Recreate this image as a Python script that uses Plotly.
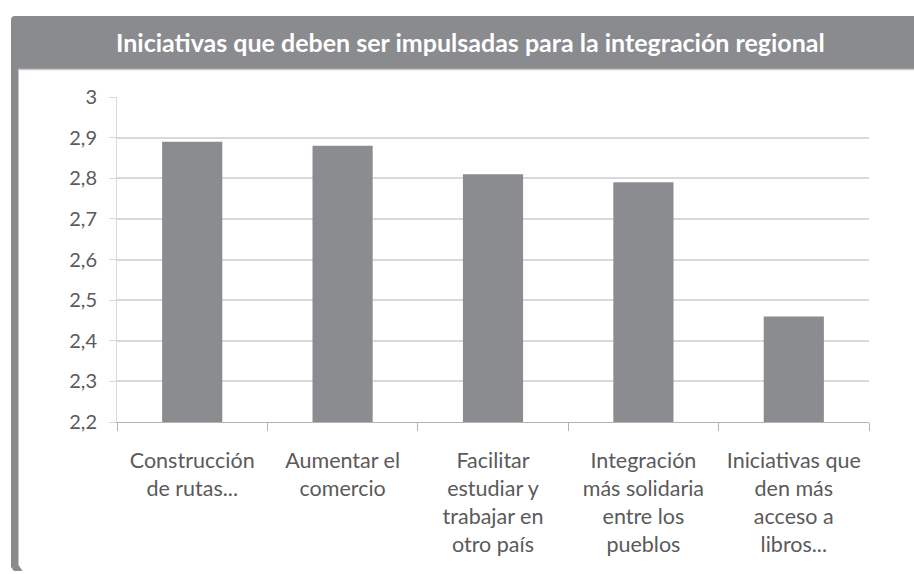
import plotly.graph_objects as go

# Data
categories = [
    "Construcción<br>de rutas...",
    "Aumentar el<br>comercio",
    "Facilitar<br>estudiar y<br>trabajar en<br>otro país",
    "Integración<br>más solidaria<br>entre los<br>pueblos",
    "Iniciativas que<br>den más<br>acceso a<br>libros...",
]
values = [2.89, 2.88, 2.81, 2.79, 2.46]
y_tickvals = [2.2, 2.3, 2.4, 2.5, 2.6, 2.7, 2.8, 2.9, 3.0]
y_ticktext = ["2,2", "2,3", "2,4", "2,5", "2,6", "2,7", "2,8", "2,9", "3"]
title_text = "Iniciativas que deben ser impulsadas para la integración regional"

W, H = 914, 574
ML, MR, MT, MB = 117, 45, 97, 152
PW, PH = W - ML - MR, H - MT - MB


def fx(px):
    return (px - ML) / PW


def fy(py):
    return 1 - (py - MT) / PH


BAR = "#8b8c90"
FRAME = "#8a8b8f"
GRID = "#d9d9d9"
TEXT = "#5a5a5a"

fig = go.Figure(
    go.Bar(
        x=categories,
        y=values,
        marker=dict(color=BAR, line=dict(width=0)),
        width=0.4,
    )
)

# Header band with a slightly rounded top-left corner
hx0, hx1, hy0, hy1, r = 11, 914, 16, 69, 4
header_path = (
    f"M {fx(hx0)},{fy(hy1)} L {fx(hx0)},{fy(hy0 + r)} "
    f"Q {fx(hx0)},{fy(hy0)} {fx(hx0 + r)},{fy(hy0)} "
    f"L {fx(hx1)},{fy(hy0)} L {fx(hx1)},{fy(hy1)} Z"
)
# Left frame edge with a small bevel at the bottom
lx0, lx1, ly0, ly1 = 11, 18.5, 69, 571
left_path = (
    f"M {fx(lx0)},{fy(ly0)} L {fx(lx1)},{fy(ly0)} L {fx(lx1)},{fy(ly1 - 6)} "
    f"L {fx(lx1 + 4)},{fy(ly1)} L {fx(lx0 + 3)},{fy(ly1)} L {fx(lx0)},{fy(ly1 - 4)} Z"
)

shapes = [
    dict(type="path", xref="paper", yref="paper", path=header_path,
         fillcolor=FRAME, line=dict(width=0), layer="below"),
    dict(type="path", xref="paper", yref="paper", path=left_path,
         fillcolor=FRAME, line=dict(width=0), layer="below"),
    dict(type="line", xref="paper", yref="paper",
         x0=fx(18.5), x1=fx(914), y0=fy(69.5), y1=fy(69.5),
         line=dict(color="#c9c9cb", width=1.5)),
]

fig.update_layout(
    width=W,
    height=H,
    margin=dict(l=ML, r=MR, t=MT, b=MB, pad=0),
    paper_bgcolor="white",
    plot_bgcolor="white",
    showlegend=False,
    bargap=0.6,
    shapes=shapes,
    annotations=[
        dict(
            text=title_text,
            xref="paper", yref="paper",
            x=fx(470), y=fy(42),
            xanchor="center", yanchor="middle",
            showarrow=False,
            font=dict(family="Lato", size=25, color="white", weight="bold"),
        )
    ],
    xaxis=dict(
        type="category",
        tickson="boundaries",
        ticks="outside",
        ticklen=8,
        tickwidth=1,
        tickcolor="#b3b3b3",
        showline=True,
        linecolor="#b3b3b3",
        linewidth=1,
        showgrid=False,
        tickfont=dict(family="Lato", size=21.5, color=TEXT),
        ticklabelstandoff=19,
        fixedrange=True,
    ),
    yaxis=dict(
        range=[2.2, 3.0],
        tickvals=y_tickvals,
        ticktext=y_ticktext,
        ticks="outside",
        ticklen=7,
        tickwidth=1,
        tickcolor=GRID,
        showline=True,
        linecolor=GRID,
        linewidth=1,
        showgrid=True,
        gridcolor=GRID,
        gridwidth=1.5,
        zeroline=False,
        tickfont=dict(family="Lato", size=20, color=TEXT),
        ticklabelstandoff=8,
        fixedrange=True,
    ),
)

fig.write_html("out.html", config={"displayModeBar": False})
